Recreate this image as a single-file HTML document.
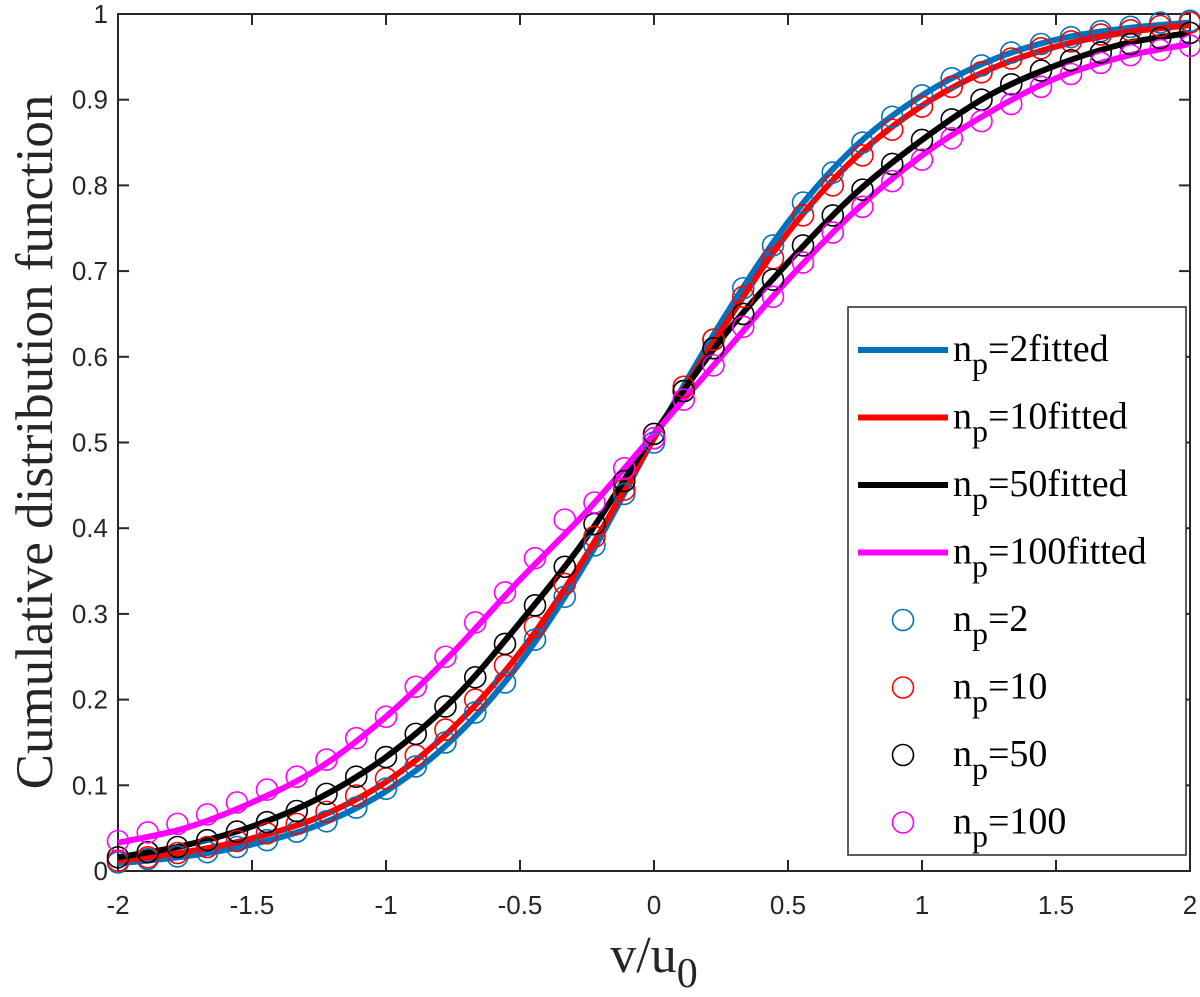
<!DOCTYPE html>
<html><head><meta charset="utf-8"><style>
body{margin:0;background:#fff}
svg{display:block}
</style></head><body>
<svg id="chart" width="1200" height="997" viewBox="0 0 1200 997" xmlns="http://www.w3.org/2000/svg"></svg>
<script>
const xTicks=[-2,-1.5,-1,-0.5,0,0.5,1,1.5,2];
const xTickLabels=['-2','-1.5','-1','-0.5','0','0.5','1','1.5','2'];
const yTicks=[0,0.1,0.2,0.3,0.4,0.5,0.6,0.7,0.8,0.9,1];
const yTickLabels=['0','0.1','0.2','0.3','0.4','0.5','0.6','0.7','0.8','0.9','1'];
const fitX=[-2,-1.75,-1.5,-1.25,-1,-0.75,-0.5,-0.25,0,0.25,0.5,0.75,1,1.25,1.5,1.75,2];
const fitNp2=[0.009,0.017,0.031,0.054,0.093,0.154,0.243,0.362,0.505,0.64,0.757,0.845,0.905,0.945,0.97,0.983,0.99];
const fitNp10=[0.012,0.022,0.038,0.063,0.104,0.167,0.255,0.37,0.505,0.63,0.745,0.832,0.893,0.935,0.962,0.978,0.987];
const fitNp50=[0.016,0.03,0.052,0.085,0.133,0.2,0.29,0.39,0.51,0.62,0.71,0.79,0.853,0.905,0.94,0.965,0.978];
const fitNp100=[0.033,0.05,0.08,0.12,0.18,0.255,0.34,0.42,0.51,0.6,0.69,0.77,0.835,0.885,0.925,0.95,0.965];
const mX=[-2,-1.889,-1.778,-1.667,-1.556,-1.444,-1.333,-1.222,-1.111,-1,-0.889,-0.778,-0.667,-0.556,-0.444,-0.333,-0.222,-0.111,0,0.111,0.222,0.333,0.444,0.556,0.667,0.778,0.889,1,1.111,1.222,1.333,1.444,1.556,1.667,1.778,1.889,2];
const mNp2=[0.01,0.014,0.017,0.022,0.028,0.036,0.046,0.058,0.074,0.096,0.122,0.15,0.185,0.22,0.27,0.32,0.38,0.44,0.5,0.56,0.62,0.68,0.73,0.78,0.815,0.85,0.88,0.905,0.925,0.94,0.955,0.965,0.973,0.98,0.985,0.99,0.992];
const mNp10=[0.012,0.016,0.021,0.028,0.035,0.044,0.055,0.069,0.088,0.108,0.135,0.165,0.2,0.24,0.285,0.335,0.39,0.445,0.505,0.565,0.62,0.67,0.715,0.765,0.8,0.835,0.865,0.892,0.915,0.932,0.948,0.96,0.968,0.976,0.981,0.986,0.99];
const mNp50=[0.016,0.022,0.028,0.036,0.046,0.057,0.07,0.09,0.11,0.133,0.16,0.192,0.226,0.265,0.31,0.355,0.405,0.455,0.51,0.56,0.61,0.65,0.69,0.73,0.765,0.795,0.825,0.853,0.877,0.9,0.918,0.934,0.946,0.955,0.965,0.972,0.978];
const mNp100=[0.035,0.045,0.055,0.066,0.08,0.095,0.11,0.13,0.155,0.18,0.215,0.25,0.29,0.325,0.365,0.41,0.43,0.47,0.505,0.55,0.59,0.635,0.67,0.71,0.745,0.775,0.805,0.83,0.855,0.875,0.895,0.915,0.93,0.943,0.952,0.958,0.963];

const L=118,R=1190,T=14,B=871;
const sx=v=>L+(v+2)/4*(R-L);
const sy=v=>B-v*(B-T);
const svg=document.getElementById('chart');
const NS='http://www.w3.org/2000/svg';
function mk(tag,attrs,parent){const e=document.createElementNS(NS,tag);for(const k in attrs)e.setAttribute(k,attrs[k]);(parent||svg).appendChild(e);return e;}

const box=mk('rect',{x:L,y:T,width:R-L,height:B-T,fill:'none',stroke:'#262626','stroke-width':2});



const ticks=mk('g',{stroke:'#262626','stroke-width':2});


xTicks.forEach((v,i)=>{
  mk('line',{x1:sx(v),x2:sx(v),y1:B,y2:B-11},ticks);
  mk('line',{x1:sx(v),x2:sx(v),y1:T,y2:T+11},ticks);
  const t=mk('text',{x:sx(v),y:B+43,'text-anchor':'middle','font-family':'Liberation Sans, sans-serif','font-size':26,fill:'#262626'});
  t.textContent=xTickLabels[i];
  
  
});
yTicks.forEach((v,i)=>{
  mk('line',{x1:L,x2:L+11,y1:sy(v),y2:sy(v)},ticks);
  mk('line',{x1:R,x2:R-11,y1:sy(v),y2:sy(v)},ticks);
  const t=mk('text',{x:L-10,y:sy(v)+9,'text-anchor':'end','font-family':'Liberation Sans, sans-serif','font-size':26,fill:'#262626'});
  t.textContent=yTickLabels[i];
  
  
});

function smoothPath(xs,ys){
  const p=xs.map((x,i)=>[sx(x),sy(ys[i])]);
  let d='M'+p[0][0]+','+p[0][1];
  for(let i=0;i<p.length-1;i++){
    const p0=p[Math.max(0,i-1)],p1=p[i],p2=p[i+1],p3=p[Math.min(p.length-1,i+2)];
    const c1=[p1[0]+(p2[0]-p0[0])/6,p1[1]+(p2[1]-p0[1])/6];
    const c2=[p2[0]-(p3[0]-p1[0])/6,p2[1]-(p3[1]-p1[1])/6];
    d+=' C'+c1+' '+c2+' '+p2;
  }
  return d;
}
const fits=[[fitNp2,'#0072BD','fit-np2'],[fitNp10,'#FF0000','fit-np10'],[fitNp50,'#000000','fit-np50'],[fitNp100,'#FF00FF','fit-np100']];
fits.forEach(f=>{
  const p=mk('path',{d:smoothPath(fitX,f[0]),fill:'none',stroke:f[1],'stroke-width':6});
  
  
});
const marks=[[mNp2,'#0072BD','markers-np2'],[mNp10,'#FF0000','markers-np10'],[mNp50,'#000000','markers-np50'],[mNp100,'#FF00FF','markers-np100']];
marks.forEach(m=>{
  const g=mk('g',{fill:'none',stroke:m[1],'stroke-width':1.6});
  
  
  m[0].forEach((v,i)=>{
    const c=mk('circle',{cx:sx(mX[i]),cy:sy(v),r:10.5},g);
    
    
  });
});

const lg=mk('g',{});


mk('rect',{x:848,y:307,width:338,height:548,fill:'#fff',stroke:'#262626','stroke-width':1.5},lg);
const legendLabels=['2fitted','10fitted','50fitted','100fitted','2','10','50','100'];
const legendColors=['#0072BD','#FF0000','#000000','#FF00FF','#0072BD','#FF0000','#000000','#FF00FF'];
legendLabels.forEach((lab,i)=>{
  const y=350+i*67.5;
  const e=mk('g',{},lg);
  
  
  if(i<4) mk('line',{x1:858,x2:948,y1:y,y2:y,stroke:legendColors[i],'stroke-width':6},e);
  else mk('circle',{cx:903,cy:y,r:10.5,fill:'none',stroke:legendColors[i],'stroke-width':1.6},e);
  const t=mk('text',{x:953,y:y+11,'font-family':'Liberation Serif, serif','font-size':38,fill:'#000'},e);
  t.innerHTML='n<tspan dy="13" font-size="32">p</tspan><tspan dy="-13">='+lab+'</tspan>';
});

const xl=mk('text',{x:654,y:972,'text-anchor':'middle','font-family':'Liberation Serif, serif','font-size':52,fill:'#262626'});
xl.innerHTML='v/u<tspan dy="15" font-size="42">0</tspan>';


const yl=mk('text',{x:0,y:0,'text-anchor':'middle','font-family':'Liberation Serif, serif','font-size':53,fill:'#262626',transform:'translate(52,442) rotate(-90)'});
yl.textContent='Cumulative distribution function';


</script>
</body></html>
